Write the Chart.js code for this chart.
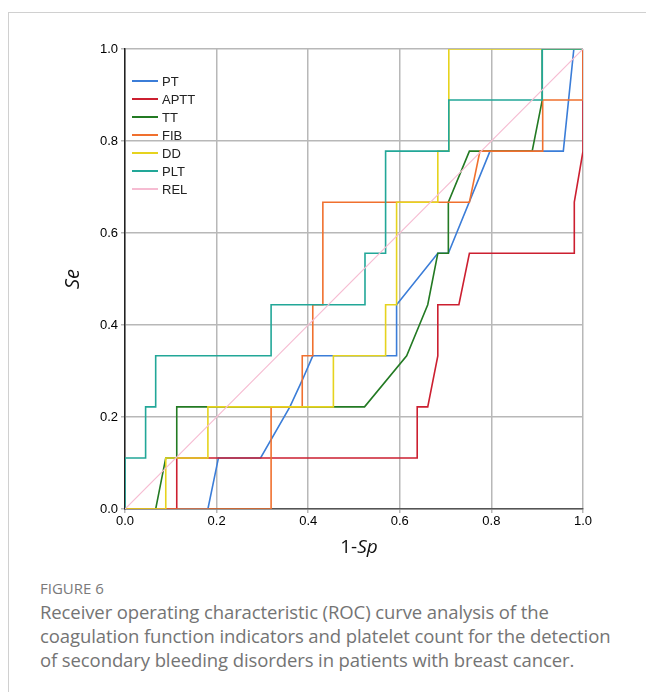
<!DOCTYPE html>
<html>
<head>
<meta charset="utf-8">
<script src="https://cdn.jsdelivr.net/npm/chart.js@4.4.0/dist/chart.umd.min.js"></script>
<style>
  body { margin: 0; background: #fff; }
  .frame { position: absolute; left: 8px; top: 12px; width: 660px; height: 700px;
           border-left: 1px solid #d0d0d0; border-top: 1px solid #d0d0d0; }
  #roc { position: absolute; left: 0; top: 0; }
  .fig { position: absolute; left: 40px; top: 578px; font: 15px "Open Sans", sans-serif;
         line-height: 20px; color: #7a7a7a; }
  .cap { position: absolute; left: 40px; top: 600px; font: 18.5px "Open Sans", sans-serif;
         line-height: 24px; color: #747474; white-space: nowrap; letter-spacing: -0.1px; }
</style>
</head>
<body>
<div class="frame"></div>
<canvas id="roc" width="646" height="570"></canvas>
<div class="fig">FIGURE 6</div>
<div class="cap">Receiver operating characteristic (ROC) curve analysis of the<br>coagulation function indicators and platelet count for the detection<br>of secondary bleeding disorders in patients with breast cancer.</div>
<script>
// ROC curves, values (1-Sp on x, Se on y)
const labels = ["PT", "APTT", "TT", "FIB", "DD", "PLT", "REL"]
const colors = ["#3b7dd8", "#cc1f30", "#237a23", "#f0702e", "#e6d31e", "#22a798", "#f6bcd2"]

const ptX = [0, 0.181, 0.204, 0.296, 0.36, 0.387, 0.41, 0.593, 0.593, 0.683, 0.706, 0.797, 0.957, 0.980, 1.0]
const ptY = [0, 0, 0.111, 0.111, 0.222, 0.28, 0.333, 0.333, 0.444, 0.556, 0.556, 0.778, 0.778, 1.0, 1.0]

const apttX = [0, 0.113, 0.113, 0.638, 0.638, 0.661, 0.683, 0.683, 0.729, 0.752, 0.981, 0.981, 1.0, 1.0]
const apttY = [0, 0, 0.111, 0.111, 0.222, 0.222, 0.333, 0.444, 0.444, 0.556, 0.556, 0.667, 0.778, 1.0]

const ttX = [0, 0.067, 0.089, 0.113, 0.113, 0.523, 0.615, 0.661, 0.683, 0.706, 0.706, 0.752, 0.889, 0.911, 0.911, 1.0]
const ttY = [0, 0, 0.111, 0.111, 0.222, 0.222, 0.333, 0.444, 0.556, 0.556, 0.667, 0.778, 0.778, 0.889, 1.0, 1.0]

const fibX = [0, 0.319, 0.319, 0.387, 0.387, 0.41, 0.41, 0.432, 0.432, 0.752, 0.775, 0.912, 0.912, 1.0, 1.0]
const fibY = [0, 0, 0.222, 0.222, 0.333, 0.333, 0.444, 0.444, 0.667, 0.667, 0.778, 0.778, 0.889, 0.889, 1.0]

const ddX = [0, 0.089, 0.089, 0.181, 0.181, 0.455, 0.455, 0.569, 0.569, 0.593, 0.593, 0.683, 0.683, 0.707, 0.707, 1.0]
const ddY = [0, 0, 0.111, 0.111, 0.222, 0.222, 0.333, 0.333, 0.444, 0.444, 0.667, 0.667, 0.778, 0.778, 1.0, 1.0]

const pltX = [0, 0, 0.045, 0.045, 0.067, 0.067, 0.319, 0.319, 0.524, 0.524, 0.569, 0.569, 0.707, 0.707, 0.911, 0.911, 1.0]
const pltY = [0, 0.111, 0.111, 0.222, 0.222, 0.333, 0.333, 0.444, 0.444, 0.556, 0.556, 0.778, 0.778, 0.889, 0.889, 1.0, 1.0]

const relX = [0, 1]
const relY = [0, 1]

const tickValues = [0, 0.2, 0.4, 0.6, 0.8, 1.0]

const allX = [ptX, apttX, ttX, fibX, ddX, pltX, relX]
const allY = [ptY, apttY, ttY, fibY, ddY, pltY, relY]

function pts(xs, ys) {
    return xs.map((x, i) => ({ x: x, y: ys[i] }))
}

const datasets = labels.map((name, i) => ({
    label: name,
    data: pts(allX[i], allY[i]),
    borderColor: colors[i],
    backgroundColor: colors[i],
    borderWidth: name == "REL" ? 1.2 : 1.6,
    showLine: true,
    pointRadius: 0,
    tension: 0,
    order: labels.length - i
}))

// legend and axis titles drawn inside / around the plot
const extras = {
    id: "extras",
    afterDraw(chart) {
        const ctx = chart.ctx
        const a = chart.chartArea
        ctx.save()
        ctx.font = '13px "Liberation Sans", Arial, sans-serif'
        ctx.textBaseline = "middle"
        chart.data.datasets.forEach((ds, i) => {
            const y = a.top + 32 + i * 18
            ctx.strokeStyle = ds.borderColor
            ctx.lineWidth = 2
            ctx.beginPath()
            ctx.moveTo(a.left + 7, y)
            ctx.lineTo(a.left + 33, y)
            ctx.stroke()
            ctx.fillStyle = "#222"
            ctx.fillText(ds.label, a.left + 37, y + 1)
        })

        // y title
        ctx.fillStyle = "#111"
        ctx.font = 'italic 20px "Open Sans", sans-serif'
        ctx.textAlign = "center"
        ctx.translate(73, (a.top + a.bottom) / 2)
        ctx.rotate(-Math.PI / 2)
        ctx.fillText("Se", 0, 0)
        ctx.restore()

        // x title: "1-" upright, "Sp" italic
        ctx.save()
        ctx.fillStyle = "#111"
        ctx.textBaseline = "middle"
        const f1 = '19px "Open Sans", sans-serif'
        const f2 = 'italic 19px "Open Sans", sans-serif'
        ctx.font = f1
        const w1 = ctx.measureText("1-").width
        ctx.font = f2
        const w2 = ctx.measureText("Sp").width
        const x0 = 359 - (w1 + w2) / 2
        ctx.font = f1
        ctx.fillText("1-", x0, 548)
        ctx.font = f2
        ctx.fillText("Sp", x0 + w1, 548)
        ctx.restore()
    }
}

const tickFont = { family: '"Liberation Sans", Arial, sans-serif', size: 13 }

new Chart(document.getElementById("roc"), {
    type: "scatter",
    data: { datasets: datasets },
    plugins: [extras],
    options: {
        responsive: false,
        animation: false,
        devicePixelRatio: 1,
        layout: { padding: { left: 0, right: 63, top: 49, bottom: 0 } },
        plugins: { legend: { display: false }, tooltip: { enabled: false } },
        scales: {
            x: {
                type: "linear", min: 0, max: 1,
                afterBuildTicks: s => { s.ticks = tickValues.map(v => ({ value: v })) },
                afterFit: s => { s.height = 61 },
                ticks: { font: tickFont, color: "#000", padding: 1, maxRotation: 0,
                         callback: v => v.toFixed(1) },
                grid: { color: "#b8b8b8", lineWidth: 1.5, tickLength: 4 },
                border: { color: "#555", width: 1.5 }
            },
            y: {
                type: "linear", min: 0, max: 1,
                afterBuildTicks: s => { s.ticks = tickValues.map(v => ({ value: v })) },
                afterFit: s => { s.width = 125 },
                ticks: { font: tickFont, color: "#000", padding: 3,
                         callback: v => v.toFixed(1) },
                grid: { color: "#b8b8b8", lineWidth: 1.5, tickLength: 4 },
                border: { color: "#222", width: 1.5 }
            }
        }
    }
})
</script>
</body>
</html>
